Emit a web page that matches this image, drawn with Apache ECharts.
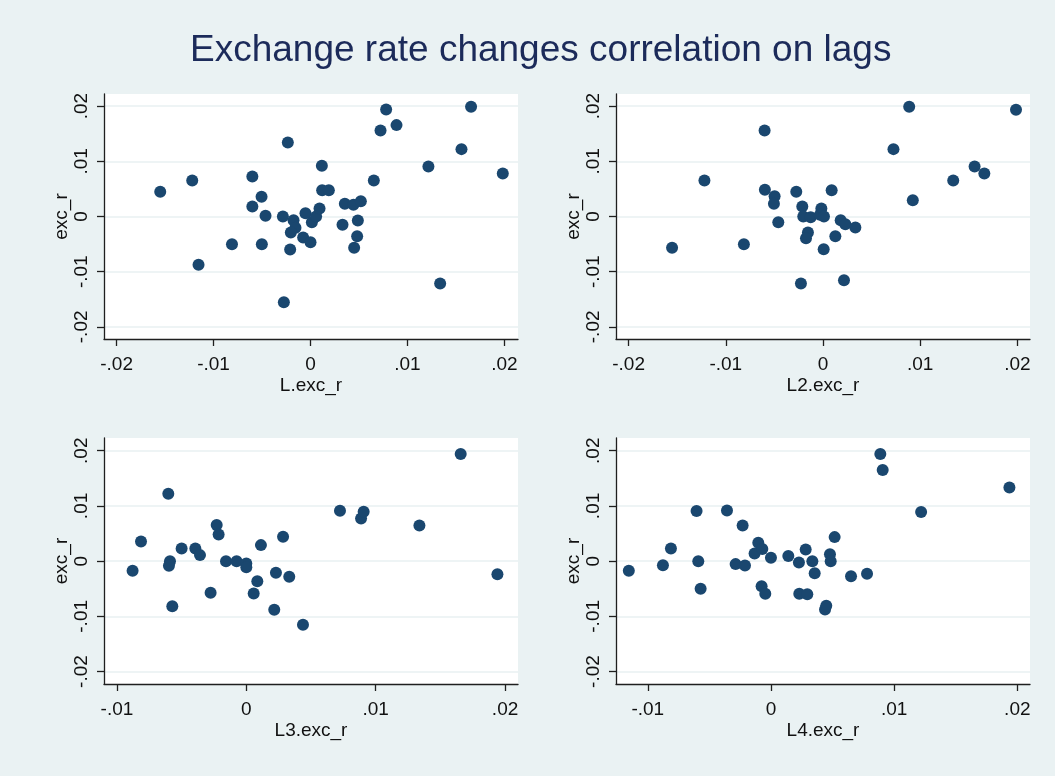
<!DOCTYPE html>
<html><head><meta charset="utf-8">
<script src="https://cdn.jsdelivr.net/npm/echarts@6/dist/echarts.min.js"></script>
<style>html,body{margin:0;padding:0;background:#eaf2f3}#c{width:1055px;height:776px}</style>
</head><body><div id="c"></div>
<script>
// ---- text ----
const chartTitle = 'Exchange rate changes correlation on lags';
const xNames = ['L.exc_r', 'L2.exc_r', 'L3.exc_r', 'L4.exc_r'];
const yName = 'exc_r';

// ---- tick values / labels ----
const yTickValues = [-0.02, -0.01, 0, 0.01, 0.02];
const yTickLabels = ['-.02', '-.01', '0', '.01', '.02'];
const xTickValuesTop = [-0.02, -0.01, 0, 0.01, 0.02];
const xTickLabelsTop = ['-.02', '-.01', '0', '.01', '.02'];
const xTickValuesBottom = [-0.01, 0, 0.01, 0.02];
const xTickLabelsBottom = ['-.01', '0', '.01', '.02'];

// ---- data: panel 1 (L.exc_r vs exc_r) ----
const lag1X = [-0.0155,-0.0122,-0.01155,-0.0081,-0.0060,-0.0060,-0.00505,-0.00464,-0.00502,-0.00234,-0.00285,-0.00175,-0.00155,-0.00203,-0.0021,-0.00275,-0.00076,0.0000,-0.00052,0.00014,0.00058,0.00093,0.00117,0.0012,0.00189,0.0033,0.00354,0.00443,0.00519,0.00488,0.00481,0.0045,0.00653,0.00722,0.0078,0.00887,0.01216,0.01337,0.01557,0.01656,0.01983];
const lag1Y = [0.00447,0.00653,-0.00876,-0.00502,0.00725,0.00181,0.00356,0.00012,-0.00502,0.01341,0,-0.00066,-0.00205,-0.0029,-0.00598,-0.01553,-0.00381,-0.00465,0.0006,-0.00103,0,0.00145,0.00918,0.00477,0.00477,-0.00151,0.0023,0.00211,0.00278,-0.00073,-0.00356,-0.00568,0.00653,0.01559,0.0194,0.01656,0.00906,-0.01215,0.01221,0.01988,0.00779];
// ---- panel 2 (L2.exc_r) ----
const lag2X = [-0.01553,-0.0122,-0.00814,-0.00601,-0.00598,-0.00498,-0.00505,-0.0046,-0.00275,-0.00213,-0.00203,-0.00127,-0.00155,-0.00175,-0.00227,-0.00017,-0.00031,0.0001,0.00007,0.00089,0.00127,0.00182,0.0023,0.00333,0.00216,0.00725,0.00887,0.00924,0.0134,0.0156,0.0166,0.01986];
const lag2Y = [-0.00568,0.00653,-0.00502,0.01559,0.00483,0.00369,0.0023,-0.00103,0.00447,0.00181,0,-0.00012,-0.0029,-0.00393,-0.01215,0.00145,0.0003,0,-0.00592,0.00477,-0.00356,-0.00066,-0.00139,-0.00199,-0.01154,0.01221,0.01988,0.00296,0.00653,0.00906,0.00779,0.01934];
// ---- panel 3 (L3.exc_r) ----
const lag3X = [-0.00879,-0.00814,-0.00603,-0.0059,-0.00598,-0.00572,-0.005,-0.00394,-0.00358,-0.00276,-0.00229,-0.00214,-0.00157,-0.00075,0,0,0.00085,0.00057,0.00113,0.00229,0.00216,0.00284,0.00332,0.00438,0.00724,0.00887,0.00907,0.01338,0.01657,0.01941];
const lag3Y = [-0.00175,0.00356,0.01221,0,-0.00085,-0.00816,0.0023,0.0023,0.00109,-0.00574,0.00653,0.00483,0,0,-0.00042,-0.00109,-0.00363,-0.00586,0.0029,-0.00211,-0.00882,0.00441,-0.00284,-0.01154,0.00912,0.00773,0.00894,0.00647,0.0194,-0.00236];
// ---- panel 4 (L4.exc_r) ----
const lag4X = [-0.01154,-0.00877,-0.00812,-0.00604,-0.0059,-0.00571,-0.00357,-0.00287,-0.0023,-0.00211,-0.00133,-0.00103,-0.0007,-0.00076,-0.00046,0,0.00141,0.00227,0.0023,0.00282,0.00295,0.00336,0.00355,0.00439,0.00449,0.00479,0.00485,0.00517,0.0065,0.0078,0.00888,0.00907,0.01219,0.01936];
const lag4Y = [-0.00175,-0.00073,0.0023,0.00906,0,-0.00502,0.00918,-0.00054,0.00647,-0.00079,0.00139,0.00332,0.00218,-0.00453,-0.00592,0.0006,0.00091,-0.00024,-0.00592,0.00211,-0.00598,0,-0.00218,-0.00876,-0.0081,0.00127,0,0.00435,-0.00272,-0.0023,0.0194,0.0165,0.00888,0.01335];

const panelsX = [lag1X, lag2X, lag3X, lag4X];
const panelsY = [lag1Y, lag2Y, lag3Y, lag4Y];

// ---- layout ----
const FONT = '"Liberation Sans", Arial, sans-serif';
const axisColor = '#1f1f1f';
const gridLineColor = '#e8f0f2';
const markerColor = '#1a476f';
const gridBoxes = [
  {left: 104, top: 94, width: 414, height: 245},
  {left: 616, top: 94, width: 414, height: 245},
  {left: 104, top: 438, width: 414, height: 246},
  {left: 616, top: 438, width: 414, height: 246}
];
const xRanges = [[-0.0213, 0.0214], [-0.0213, 0.0213], [-0.0110, 0.0210], [-0.01258, 0.02103]];
const yRanges = [[-0.0222, 0.0222], [-0.0222, 0.0222], [-0.02225, 0.0223], [-0.02225, 0.0223]];

function labelFor(values, labels) {
  return function (v) {
    for (let i = 0; i < values.length; i++) if (Math.abs(values[i] - v) < 1e-9) return labels[i];
    return '';
  };
}

const grids = [], xAxes = [], yAxes = [], series = [];
for (let i = 0; i < 4; i++) {
  const top = i < 2;
  const xv = top ? xTickValuesTop : xTickValuesBottom;
  const xl = top ? xTickLabelsTop : xTickLabelsBottom;
  grids.push(Object.assign({show: true, backgroundColor: '#ffffff', borderWidth: 0, containLabel: false}, gridBoxes[i]));
  xAxes.push({
    type: 'value', gridIndex: i, min: xRanges[i][0], max: xRanges[i][1],
    name: xNames[i], nameLocation: 'middle', nameGap: 37,
    nameTextStyle: {fontFamily: FONT, fontSize: 19, color: '#111'},
    axisLine: {show: true, onZero: false, lineStyle: {color: axisColor, width: 1.3}},
    axisTick: {show: true, inside: false, length: 7, customValues: xv, lineStyle: {color: axisColor, width: 1.3}},
    axisLabel: {show: true, margin: 16, customValues: xv, formatter: labelFor(xv, xl),
      fontFamily: FONT, fontSize: 19, color: '#111'},
    splitLine: {show: false}
  });
  yAxes.push({
    type: 'value', gridIndex: i, min: yRanges[i][0], max: yRanges[i][1],
    name: yName, nameLocation: 'middle', nameGap: 33, nameRotate: 90,
    nameTextStyle: {fontFamily: FONT, fontSize: 19, color: '#111'},
    axisLine: {show: true, onZero: false, lineStyle: {color: axisColor, width: 1.3}},
    axisTick: {show: true, inside: false, length: 7, customValues: yTickValues, lineStyle: {color: axisColor, width: 1.3}},
    axisLabel: {show: true, margin: 13, rotate: 90, customValues: yTickValues, formatter: labelFor(yTickValues, yTickLabels),
      fontFamily: FONT, fontSize: 19, color: '#111'},
    splitLine: {show: true, lineStyle: {color: gridLineColor, width: 1.5}}
  });
  series.push({
    type: 'scatter', xAxisIndex: i, yAxisIndex: i,
    symbol: 'circle', symbolSize: 12,
    itemStyle: {color: markerColor, opacity: 1},
    data: panelsX[i].map((x, k) => [x, panelsY[i][k]])
  });
}

const chart = echarts.init(document.getElementById('c'), null, {renderer: 'canvas'});
chart.setOption({
  animation: false,
  backgroundColor: '#eaf2f3',
  title: {
    text: chartTitle, left: 185, top: 27,
    textStyle: {fontFamily: FONT, fontSize: 37, fontWeight: 'normal', color: '#1c2b5a'}
  },
  grid: grids, xAxis: xAxes, yAxis: yAxes, series: series
});
</script></body></html>
